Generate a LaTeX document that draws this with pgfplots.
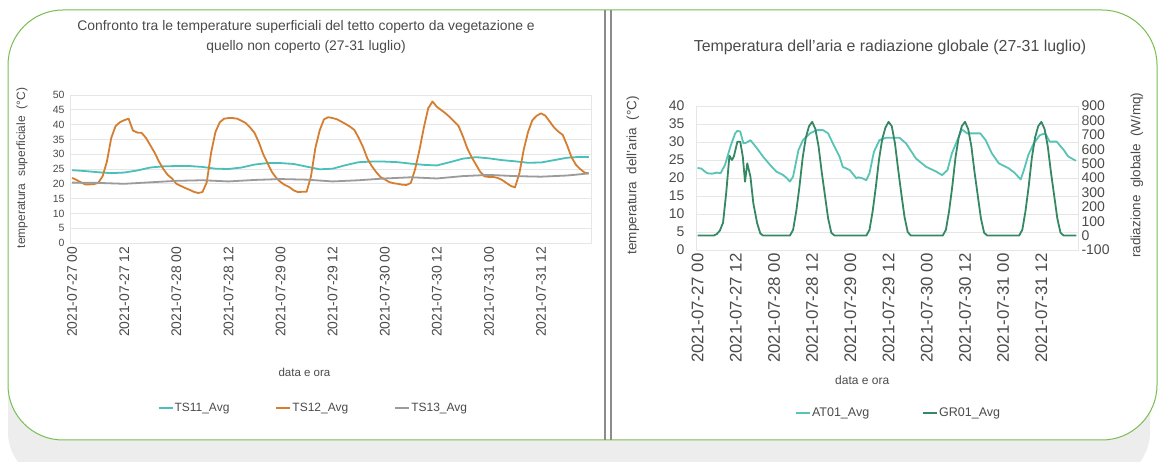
\documentclass[border=0pt]{standalone}
\usepackage{pgfplots}
\pgfplotsset{compat=1.18}
\usepackage{fontspec}
\setmainfont{Liberation Sans}
\definecolor{tsA}{RGB}{75,192,186}
\definecolor{tsB}{RGB}{214,126,48}
\definecolor{tsC}{RGB}{155,155,155}
\definecolor{atc}{RGB}{88,196,182}
\definecolor{grc}{RGB}{52,136,100}
\definecolor{bordc}{RGB}{120,190,80}
\definecolor{txt}{RGB}{75,75,75}
\definecolor{gridc}{RGB}{230,230,230}
\newcommand{\fs}[1]{\fontsize{#1}{#1}\selectfont}
\pgfplotsset{
  basechart/.style={
    scale only axis,
    xmin=-0.5, xmax=119.5,
    xtick={0,12,...,108},
    xticklabels={2021-07-27 00,2021-07-27 12,2021-07-28 00,2021-07-28 12,2021-07-29 00,2021-07-29 12,2021-07-30 00,2021-07-30 12,2021-07-31 00,2021-07-31 12},
    major tick length=0pt,
    axis line style={gridc},
    tick label style={text=txt},
    label style={text=txt},
    /pgf/number format/assume math mode=true,
    xticklabel style={rotate=90, anchor=east},
    every axis plot/.append style={line width=1.8pt, line join=round, no marks},
    legend cell align=left,
    legend image code/.code={\draw[##1,line width=2pt] (0pt,0pt) -- (14pt,0pt);},
  }
}
\begin{document}
\begin{tikzpicture}[x=1pt,y=1pt]
\useasboundingbox (0,0) rectangle (1159,462);
\fill[white] (0,0) rectangle (1159,462);
% shadow and panel
\fill[black!7, rounded corners=50pt] (8,-20) rectangle (1150,422);
\filldraw[fill=white, draw=bordc, line width=1pt, rounded corners=55pt] (8,22) rectangle (1157,452);
\draw[black!45, line width=1.2pt] (605,22) -- (605,452);
\draw[black!45, line width=1.2pt] (611,22) -- (611,452);

% ---------------- left chart ----------------
\begin{axis}[basechart,
  at={(70pt,219pt)}, anchor=south west, width=521pt, height=148pt,
  ymin=0, ymax=50, ytick={0,5,...,50},
  ymajorgrids, major grid style={gridc, line width=0.8pt},
  yticklabel style={font=\fs{10.5}, xshift=-2pt},
  xticklabel style={font=\fs{13.9}},
  title={Confronto tra le temperature superficiali del tetto coperto da vegetazione e\\quello non coperto (27-31 luglio)},
  title style={align=center, font=\fontsize{13.9}{20}\selectfont, text=txt, at={(axis description cs:0.453,1.355)}, anchor=center, yshift=0pt},
  xlabel={data e ora},
  xlabel style={font=\fs{11.5}, at={(axis description cs:0.45,-0.872)}, anchor=center},
  ylabel={temperatura\ \ superficiale\ \ (°C)},
  ylabel style={font=\fs{12}, at={(axis description cs:-0.092,0.507)}, anchor=center},
  legend columns=3,
  legend style={draw=none, fill=none, font=\fs{12}, text=txt,
    at={(axis description cs:0.466,-1.115)}, anchor=center,
    nodes={inner xsep=1pt},
    /tikz/every even column/.append style={column sep=45pt}},
]
\addplot[tsA] coordinates {
(0,24.6)(3,24.3)(6,23.9)(9,23.6)(12,23.8)(15,24.5)(18,25.5)(21,25.9)(24,26.0)(27,26.0)(30,25.7)(33,25.1)(36,25.0)(39,25.5)(42,26.5)(45,27.0)(48,27.0)(51,26.7)(54,25.8)(57,24.9)(60,25.1)(63,26.3)(66,27.3)(69,27.5)(72,27.5)(75,27.3)(78,26.8)(81,26.4)(84,26.2)(87,27.3)(90,28.5)(93,29.0)(96,28.6)(99,28.0)(102,27.6)(105,27.1)(108,27.2)(111,28.0)(114,28.8)(117,29.1)(119,29.0)
};
\addlegendentry{TS11\_Avg}
\addplot[tsB] coordinates {
(0,22.0)(1,21.3)(2,20.5)(3,19.8)(4,19.8)(5,19.9)(6,20.3)(7,22.5)(8,27.5)(9,35.5)(10,39.5)(11,40.8)(12,41.5)(13,42.0)(14,38.0)(15,37.3)(16,37.2)(17,35.5)(18,33.0)(19,30.5)(20,27.5)(21,25.0)(22,23.0)(23,21.8)
(24,20.0)(25,19.3)(26,18.6)(27,18.0)(28,17.3)(29,16.9)(30,17.2)(31,20.5)(32,30.5)(33,37.5)(34,40.8)(35,42.0)(36,42.2)(37,42.2)(38,42.0)(39,41.3)(40,40.5)(41,39.0)(42,37.2)(43,34.0)(44,30.0)(45,27.0)(46,24.0)(47,22.0)
(48,20.6)(49,19.6)(50,18.9)(51,17.8)(52,17.2)(53,17.3)(54,17.3)(55,22.5)(56,32.0)(57,38.0)(58,41.8)(59,42.5)(60,42.2)(61,41.8)(62,41.0)(63,40.2)(64,39.3)(65,38.2)(66,35.5)(67,32.4)(68,28.5)(69,26.0)(70,24.0)(71,22.3)
(72,21.5)(73,20.6)(74,20.2)(75,20.0)(76,19.7)(77,19.6)(78,20.3)(79,25.0)(80,31.5)(81,39.0)(82,45.5)(83,47.8)(84,46.0)(85,44.9)(86,43.8)(87,42.5)(88,41.0)(89,39.5)(90,36.0)(91,32.0)(92,29.0)(93,26.5)(94,24.0)(95,22.5)
(96,22.3)(97,22.3)(98,22.0)(99,21.3)(100,20.3)(101,19.3)(102,18.8)(103,23.5)(104,31.5)(105,37.5)(106,41.5)(107,43.0)(108,43.8)(109,43.0)(110,41.0)(111,39.0)(112,37.6)(113,36.5)(114,33.0)(115,29.0)(116,26.5)(117,25.0)(118,23.8)(119,23.5)
};
\addlegendentry{TS12\_Avg}
\addplot[tsC] coordinates {
(0,20.4)(6,20.3)(12,20.0)(18,20.5)(24,21.0)(30,21.2)(36,20.8)(42,21.3)(48,21.6)(54,21.4)(60,20.8)(66,21.2)(72,21.8)(78,22.2)(84,21.8)(90,22.6)(96,23.0)(102,22.6)(108,22.4)(114,22.8)(119,23.5)
};
\addlegendentry{TS13\_Avg}
\end{axis}

% ---------------- right chart ----------------
\begin{axis}[basechart,
  at={(696pt,212pt)}, anchor=south west, width=382pt, height=144pt,
  ymin=0, ymax=40, ytick={0,5,...,40},
  ymajorgrids, major grid style={gridc, line width=0.8pt},
  yticklabel style={font=\fs{14}, xshift=-8pt},
  xticklabel style={font=\fs{16.8}},
  title={Temperatura dell'aria e radiazione globale (27-31 luglio)},
  title style={font=\fs{15.9}, text=txt, at={(axis description cs:0.508,1.368)}, anchor=center, yshift=0pt},
  xlabel={data e ora},
  xlabel style={font=\fs{12}, at={(axis description cs:0.435,-0.903)}, anchor=center},
  ylabel={temperatura\ \ dell'aria\ \ (°C)},
  ylabel style={font=\fs{13.5}, at={(axis description cs:-0.165,0.52)}, anchor=center},
]
\addplot[atc] coordinates {
(0,22.8)(1.2,22.6)(2,22.0)(3.1,21.3)(4.6,21.2)(6,21.5)(7.2,21.3)(8.6,23.6)(10.3,28.7)(11.8,32.4)(12.5,33.1)(13.4,32.9)(14.4,29.6)(15.3,29.8)(16.6,30.5)(18.7,28.2)(20.6,25.9)(22.8,23.6)
(24.7,21.8)(26.9,20.8)(28,20.0)(29,19.0)(30,20.4)(31.7,27.8)(33.1,30.5)(35.3,32.4)(37.4,33.3)(39.4,33.3)(41,32.4)(42.5,29.6)(44.6,25.9)(45.6,23.1)(47.8,22.2)
(49.9,19.9)(50.5,20.2)(51.8,19.9)(53,19.4)(54,21.3)(55.4,27.3)(57.1,30.5)(59.3,31.2)(63.4,31.2)(65.5,29.6)(68.6,25.4)(71.8,23.1)
(74.9,21.8)(76.8,20.8)(78.5,22.2)(79.9,26.9)(81.6,30.5)(83,33.5)(84.7,32.4)(86.4,32.4)(88.8,32.4)(90.5,30.5)(92.4,26.9)(94.6,24.1)
(97.7,22.7)(99.5,21.5)(101.5,19.6)(102.5,22.2)(103.9,26.4)(105.6,29.6)(107.5,31.9)(109.2,32.4)(110.6,30.1)(112.8,30.1)(115,27.8)(116.4,26.0)(118.8,24.8)
};
\end{axis}
\begin{axis}[basechart,
  at={(696pt,212pt)}, anchor=south west, width=382pt, height=144pt,
  axis x line=none, axis y line*=right,
  ymin=-100, ymax=900, ytick={-100,0,...,900},
  yticklabel style={font=\fs{14}, anchor=west},
  ylabel={radiazione\ \ globale\ \ (W/mq)},
  ylabel style={font=\fs{13.5}, at={(axis description cs:1.154,0.52)}, anchor=center},
  legend columns=2,
  legend style={draw=none, fill=none, font=\fs{12.5}, text=txt,
    at={(axis description cs:0.529,-1.13)}, anchor=center,
    nodes={inner xsep=1pt},
    /tikz/every even column/.append style={column sep=52pt}},
]
\addlegendimage{atc, line width=2pt}
\addlegendentry{AT01\_Avg}
\addplot[grc] coordinates {
(0,0)(5,0)(6,10)(7,35)(8,90)(9,300)(10,555)(10.8,525)(11.4,550)(12.5,652)(13.4,652)(14.2,548)(14.9,374)(15.6,502)(16.6,409)(17.5,226)(18.7,87)(19.7,15)(20.6,0)
(29,0)(30,40)(31,170)(32,340)(33,540)(34,680)(35,760)(36,790)(37,740)(38,620)(39,440)(40,280)(41,120)(42,20)(43,0)
(53,0)(54,40)(55,170)(56,340)(57,530)(58,670)(59,750)(60,790)(61,760)(62,640)(63,460)(64,290)(65,130)(66,25)(67,0)
(77,0)(78,40)(79,170)(80,340)(81,540)(82,680)(83,760)(84,790)(85,740)(86,620)(87,440)(88,280)(89,120)(90,20)(91,0)
(101,0)(102,40)(103,170)(104,340)(105,540)(106,680)(107,760)(108,790)(109,740)(110,620)(111,440)(112,280)(113,120)(114,20)(115,0)(119,0)
};
\addlegendentry{GR01\_Avg}
\end{axis}
\end{tikzpicture}
\end{document}
